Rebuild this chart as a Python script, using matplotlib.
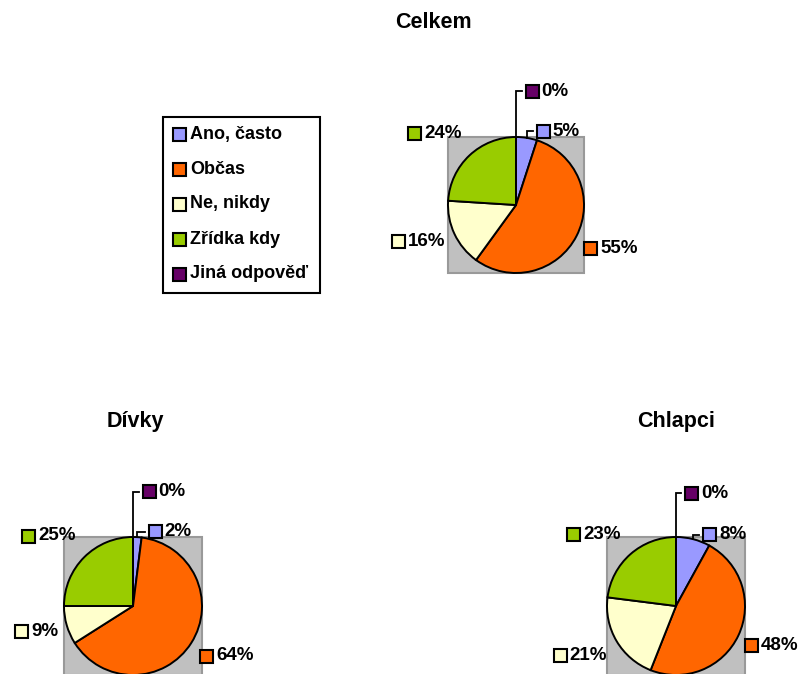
import matplotlib
matplotlib.use("Agg")
import matplotlib.pyplot as plt
from matplotlib.patches import Rectangle

plt.rcParams['font.family'] = ['Liberation Sans', 'DejaVu Sans']
plt.rcParams['font.weight'] = 'bold'

# data
categories = ['Ano, často', 'Občas', 'Ne, nikdy', 'Zřídka kdy', 'Jiná odpověď']
colors = ['#9999FF', '#FF6600', '#FFFFCC', '#99CC00', '#660066']
celkem = [5, 55, 16, 24, 0]
divky = [2, 64, 9, 25, 0]
chlapci = [8, 48, 21, 23, 0]
titles = ['Celkem', 'Dívky', 'Chlapci']

W, H = 806, 674
fig = plt.figure(figsize=(W / 100, H / 100), dpi=100)
ax = fig.add_axes([0, 0, 1, 1])

def py(y):
    # pixel row -> data y
    return H - y

# layout of the three pies: center x, center y (pixels), radius, title position
layout = [
    dict(cx=516, cy=205, r=68, tx=433, ty=22,
         offs=[(27, -74), (74.5, 43.5), (-117.5, 36.5), (-101.5, -71.5), (16, -114)]),
    dict(cx=133, cy=606, r=69, tx=135, ty=422,
         offs=[(22, -74.5), (73.5, 50), (-111.5, 25.5), (-104.5, -70), (16, -114.5)]),
    dict(cx=676, cy=606, r=69, tx=676, ty=422,
         offs=[(33.5, -71.5), (75.5, 39), (-116, 49), (-102.5, -71.5), (15.5, -113)]),
]
leader = [True, False, False, False, True]
sq = 13  # label square size (px)

for vals, lay, title in zip([celkem, divky, chlapci], layout, titles):
    cx, cy, r = lay['cx'], lay['cy'], lay['r']
    # gray plot area
    ax.add_patch(Rectangle((cx - r, py(cy + r)), 2 * r, 2 * r, facecolor='#C0C0C0',
                           edgecolor='#999999', lw=1.5, zorder=1))
    wedges, _ = ax.pie(vals, colors=colors, startangle=90, counterclock=False,
                       center=(cx, py(cy)), radius=r,
                       wedgeprops=dict(edgecolor='black', linewidth=1.4))
    for w in wedges:
        w.set_zorder(2)
    ax.text(lay['tx'], py(lay['ty']), title, ha='center', va='center',
            fontsize=15.5, fontweight='bold')

    # data labels
    cum = 0
    for i, v in enumerate(vals):
        mid = (cum + v / 2) / sum(vals) * 360
        cum += v
        dx, dy = lay['offs'][i]
        lx, ly = cx + dx, cy + dy
        if leader[i]:
            import math
            ex = cx + r * math.sin(math.radians(mid))
            ey = cy - r * math.cos(math.radians(mid))
            ax.plot([ex, ex, lx - sq / 2 - 4], [py(ey), py(ly), py(ly)],
                    color='black', lw=1.3, zorder=3, solid_joinstyle='miter')
        ax.add_patch(Rectangle((lx - sq / 2, py(ly + sq / 2)), sq, sq,
                               facecolor=colors[i], edgecolor='black', lw=1.5, zorder=4))
        ax.text(lx + sq / 2 + 3, py(ly), f'{v}%', ha='left', va='center',
                fontsize=13.5, fontweight='bold', zorder=4)

# legend box
ax.add_patch(Rectangle((163, py(293)), 320 - 163, 293 - 117, facecolor='white',
                       edgecolor='black', lw=1.5, zorder=1))
for i, (cat, c) in enumerate(zip(categories, colors)):
    y = 134 + 35 * i
    ax.add_patch(Rectangle((179.5 - sq / 2, py(y + sq / 2)), sq, sq, facecolor=c,
                           edgecolor='black', lw=1.5, zorder=2))
    ax.text(190, py(y), cat, ha='left', va='center', fontsize=13, fontweight='bold')

ax.set_xlim(0, W)
ax.set_ylim(0, H)
ax.set_aspect('auto')
ax.axis('off')

fig.savefig('out.png', dpi=100, facecolor='white')
